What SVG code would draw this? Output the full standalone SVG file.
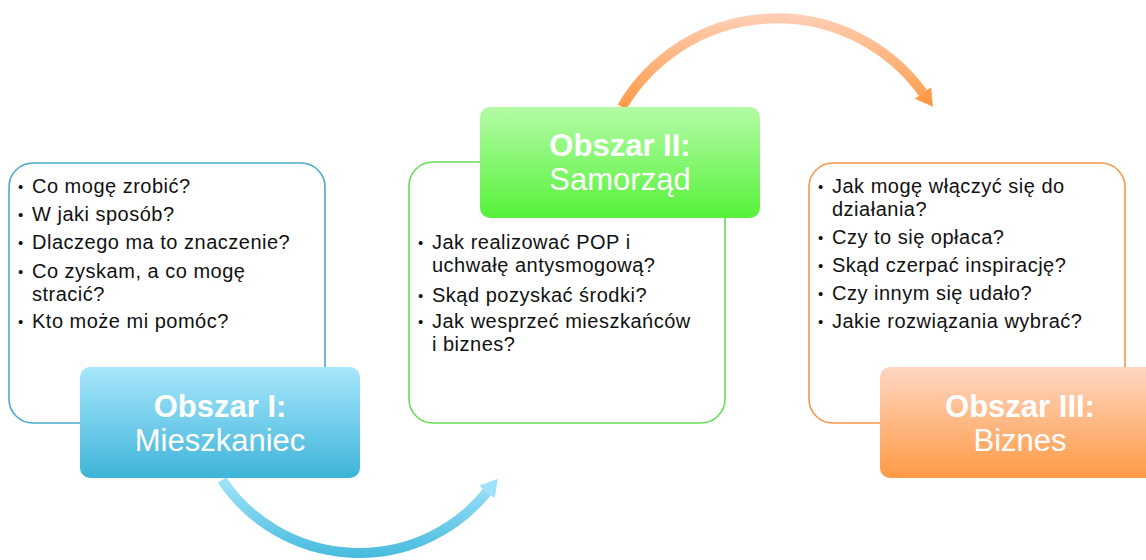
<svg xmlns="http://www.w3.org/2000/svg" width="1146" height="560" viewBox="0 0 1146 560">
<defs>
<linearGradient id="gBlue" x1="0" y1="0" x2="0" y2="1"><stop offset="0" stop-color="#A8E7FC"/><stop offset="1" stop-color="#3EB4D9"/></linearGradient>
<linearGradient id="gGreen" x1="0" y1="0" x2="0" y2="1"><stop offset="0" stop-color="#B4FBA6"/><stop offset="1" stop-color="#56F23A"/></linearGradient>
<linearGradient id="gOrange" x1="0" y1="0" x2="0" y2="1"><stop offset="0" stop-color="#FFD6C2"/><stop offset="1" stop-color="#FF9A45"/></linearGradient>
<linearGradient id="aBlue" gradientUnits="userSpaceOnUse" x1="0" y1="476" x2="0" y2="560"><stop offset="0" stop-color="#A4E4FA"/><stop offset="1" stop-color="#44BADD"/></linearGradient>
<linearGradient id="aOrange" gradientUnits="userSpaceOnUse" x1="0" y1="12" x2="0" y2="110"><stop offset="0" stop-color="#FFD0B8"/><stop offset="1" stop-color="#FF9944"/></linearGradient>
<marker id="hBlue" markerUnits="userSpaceOnUse" markerWidth="20" markerHeight="24" refX="0" refY="10" orient="auto" overflow="visible"><path d="M0,0 L17,10 L0,20 z" fill="#9FE1F8"/></marker>
<marker id="hOrange" markerUnits="userSpaceOnUse" markerWidth="20" markerHeight="24" refX="0" refY="10" orient="auto" overflow="visible"><path d="M0,0 L17,10 L0,20 z" fill="#FF9A48"/></marker>
</defs>
<style>
.box{fill:#fff;stroke-width:1.6}
.body{font-family:"Liberation Sans",Arial,sans-serif;font-size:20px;letter-spacing:0.5px;fill:#111}
.bul{font-family:"Liberation Sans",Arial,sans-serif;font-size:15px;fill:#111}
.h1{font-family:"Liberation Sans",Arial,sans-serif;font-size:31px;font-weight:bold;fill:#fff;text-anchor:middle}
.h2{font-family:"Liberation Sans",Arial,sans-serif;font-size:31px;fill:#fff;text-anchor:middle}
.arc{fill:none;stroke-width:10}
</style>
<g id="connectors">
<path class="arc" d="M222,480 A165 165 0 0 0 487,492" stroke="url(#aBlue)" marker-end="url(#hBlue)"/>
<path class="arc" d="M622,107 A180 180 0 0 1 923,93" stroke="url(#aOrange)" marker-end="url(#hOrange)"/>
</g>
<g id="node1">
<rect class="box" x="9" y="163" width="316" height="260" rx="24" stroke="#4BA9C9"/>
<text class="bul" x="18" y="192">•</text><text class="body" x="32" y="193">Co mogę zrobić?</text>
<text class="bul" x="18" y="220">•</text><text class="body" x="32" y="221">W jaki sposób?</text>
<text class="bul" x="18" y="248">•</text><text class="body" x="32" y="249">Dlaczego ma to znaczenie?</text>
<text class="bul" x="18" y="277">•</text><text class="body" x="32" y="278">Co zyskam, a co mogę</text>
<text class="body" x="32" y="301">stracić?</text>
<text class="bul" x="18" y="327">•</text><text class="body" x="32" y="328">Kto może mi pomóc?</text>
<rect x="80" y="367" width="280" height="111" rx="10" fill="url(#gBlue)"/>
<text class="h1" x="220" y="417">Obszar I:</text>
<text class="h2" x="220" y="451">Mieszkaniec</text>
</g>
<g id="node2">
<rect class="box" x="409" y="162" width="316" height="261" rx="24" stroke="#66DD55"/>
<text class="bul" x="418" y="248">•</text><text class="body" x="432" y="249">Jak realizować POP i</text>
<text class="body" x="432" y="272">uchwałę antysmogową?</text>
<text class="bul" x="418" y="301">•</text><text class="body" x="432" y="302">Skąd pozyskać środki?</text>
<text class="bul" x="418" y="327">•</text><text class="body" x="432" y="328">Jak wesprzeć mieszkańców</text>
<text class="body" x="432" y="351">i biznes?</text>
<rect x="480" y="107" width="280" height="111" rx="10" fill="url(#gGreen)"/>
<text class="h1" x="620" y="156">Obszar II:</text>
<text class="h2" x="620" y="190">Samorząd</text>
</g>
<g id="node3">
<rect class="box" x="809" y="163" width="316" height="260" rx="24" stroke="#F7964A"/>
<text class="bul" x="818" y="192">•</text><text class="body" x="832" y="193">Jak mogę włączyć się do</text>
<text class="body" x="832" y="216">działania?</text>
<text class="bul" x="818" y="243">•</text><text class="body" x="832" y="244">Czy to się opłaca?</text>
<text class="bul" x="818" y="271">•</text><text class="body" x="832" y="272">Skąd czerpać inspirację?</text>
<text class="bul" x="818" y="299">•</text><text class="body" x="832" y="300">Czy innym się udało?</text>
<text class="bul" x="818" y="327">•</text><text class="body" x="832" y="328">Jakie rozwiązania wybrać?</text>
<rect x="880" y="367" width="280" height="111" rx="10" fill="url(#gOrange)"/>
<text class="h1" x="1020" y="417">Obszar III:</text>
<text class="h2" x="1020" y="451">Biznes</text>
</g>
</svg>
